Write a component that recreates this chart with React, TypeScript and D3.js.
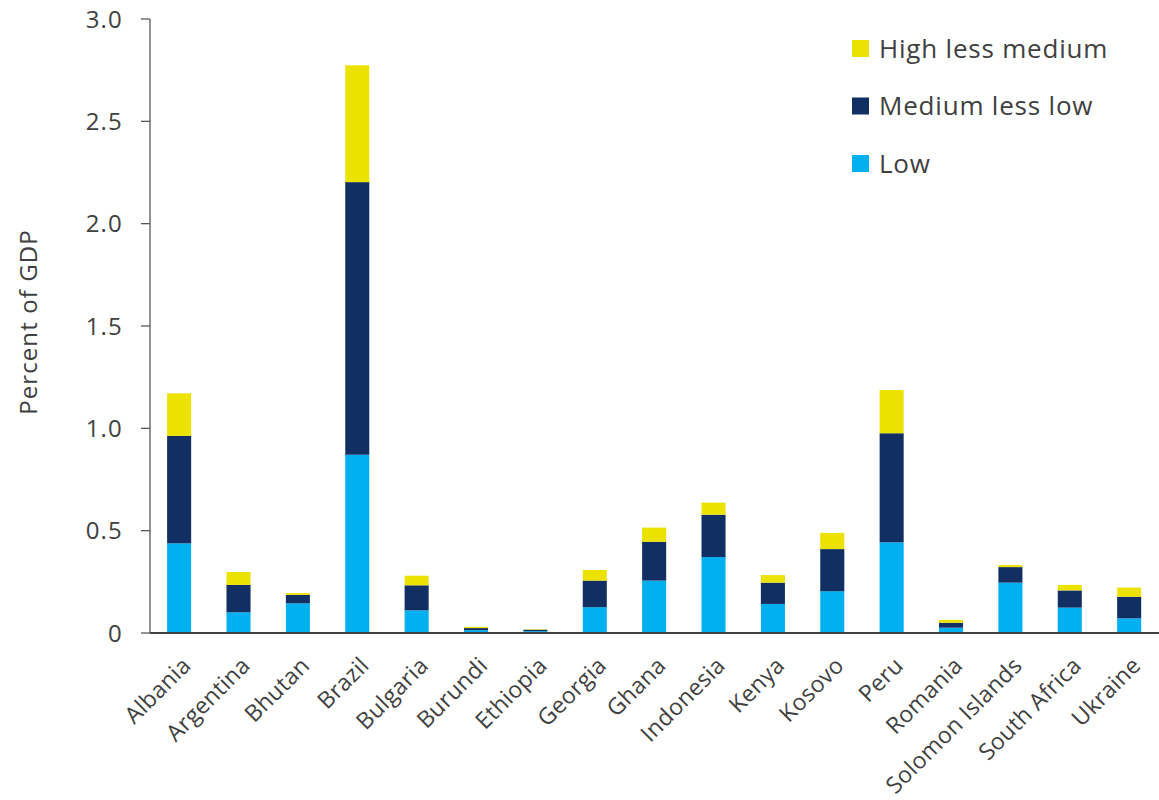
import React from "react";
import * as d3 from "d3";

const categories = ["Albania","Argentina","Bhutan","Brazil","Bulgaria","Burundi","Ethiopia","Georgia","Ghana","Indonesia","Kenya","Kosovo","Peru","Romania","Solomon Islands","South Africa","Ukraine"];
const low =            [0.438,0.101,0.145,0.871,0.111,0.014,0.009,0.126,0.256,0.371,0.142,0.204,0.443,0.026,0.246,0.124,0.072];
const mediumLessLow =  [0.525,0.134,0.041,1.332,0.122,0.010,0.007,0.130,0.190,0.207,0.104,0.206,0.533,0.024,0.076,0.084,0.105];
const highLessMedium = [0.208,0.063,0.009,0.571,0.047,0.006,0.002,0.052,0.069,0.059,0.037,0.079,0.211,0.014,0.010,0.027,0.045];
const yTicks = [0, 0.5, 1.0, 1.5, 2.0, 2.5, 3.0];
const seriesKeys = ["low", "mediumLessLow", "highLessMedium"];
const seriesNames = ["Low", "Medium less low", "High less medium"];
const colors = ["#00B0F0", "#112F62", "#ECE200"];

const W = 1159, H = 800;
const left = 150, right = 1159, top = 19, bottom = 633;
const FONT = "'Open Sans', 'Noto Sans', sans-serif";

export default function App() {
  const x = d3.scaleBand().domain(categories).range([left - 0.7, right]).paddingInner(0.595).paddingOuter(0.3);
  const y = d3.scaleLinear().domain([0, 3]).range([bottom, top]);
  const rows = categories.map((c, i) => ({ c, low: low[i], mediumLessLow: mediumLessLow[i], highLessMedium: highLessMedium[i] }));
  const stacked = d3.stack<any>().keys(seriesKeys)(rows);
  const legendOrder = [2, 1, 0];
  return (
    <svg width={W} height={H} style={{ display: "block", position: "absolute", left: 0, top: 0 }} fontFamily={FONT}>
      <rect width={W} height={H} fill="#fff" />
      {stacked.map((s, si) => (
        <g key={si} fill={colors[si]}>
          {s.map((d, i) => (
            <rect key={i} x={x(categories[i])} width={x.bandwidth()} y={y(d[1])} height={Math.max(0, y(d[0]) - y(d[1]))} />
          ))}
        </g>
      ))}
      {/* y axis */}
      <line x1={left} x2={left} y1={top} y2={bottom} stroke="#595959" strokeWidth={1.3} />
      {yTicks.map((t) => (
        <g key={t}>
          <line x1={left - 9} x2={left} y1={y(t)} y2={y(t)} stroke="#595959" strokeWidth={1.3} />
          <text x={left - 27} y={y(t)} dy="0.36em" textAnchor="end" fontSize={24} letterSpacing={1.2} fill="#404040">{t === 0 ? "0" : t.toFixed(1)}</text>
        </g>
      ))}
      <line x1={left} x2={right} y1={bottom} y2={bottom} stroke="#404040" strokeWidth={2.2} />
      <text transform={`translate(37,322) rotate(-90)`} textAnchor="middle" fontSize={24} letterSpacing={1.1} fill="#404040">Percent of GDP</text>
      {categories.map((c) => (
        <text key={c} transform={`translate(${(x(c) as number) + x.bandwidth() / 2 + 13},${bottom + 34}) rotate(-45)`} textAnchor="end" fontSize={23} letterSpacing={0.3} fill="#404040">{c}</text>
      ))}
      {legendOrder.map((si, k) => (
        <g key={si} transform={`translate(852,${40 + k * 57.5})`}>
          <rect width={17} height={17} fill={colors[si]} />
          <text x={27} y={8.5} dy="0.36em" fontSize={26} letterSpacing={0.8} fill="#404040">{seriesNames[si]}</text>
        </g>
      ))}
    </svg>
  );
}
